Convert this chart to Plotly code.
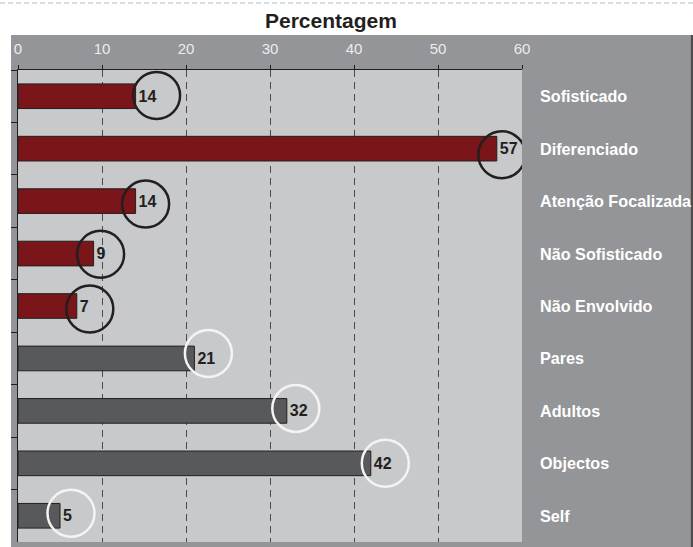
import plotly.graph_objects as go

# ---- data ----
categories = ["Sofisticado", "Diferenciado", "Atenção Focalizada", "Não Sofisticado",
              "Não Envolvido", "Pares", "Adultos", "Objectos", "Self"]
values = [14, 57, 14, 9, 7, 21, 32, 42, 5]
groups = ["A", "A", "A", "A", "A", "B", "B", "B", "B"]
x_ticks = [0, 10, 20, 30, 40, 50, 60]
title_text = "Percentagem"

# ---- styles ----
bar_colors = {"A": "#7a1519", "B": "#58595b"}
circle_colors = {"A": "#231f20", "B": "#f4f4f4"}
# pixel offsets of the highlight circles from the bar end / row centre
circle_dx = [21, 5, 10, 7, 13, 14, 9, 14.5, 11]
circle_dy = [-0.7, 6, 3, 0.6, 3, -5, -2.5, 0, -2.5]
R = 23.5

FONT = "Liberation Sans, Arial, sans-serif"
W, H = 693, 547
ML, MR, MT, MB = 18, 171, 70, 5
PW, PH = W - ML - MR, H - MT - MB


def px(xp):
    return (xp - ML) / PW


def py(yp):
    return (H - MB - yp) / PH


fig = go.Figure()
fig.add_trace(go.Bar(
    orientation="h",
    y=categories,
    x=values,
    width=0.47,
    marker=dict(color=[bar_colors[g] for g in groups],
                line=dict(color="#231f20", width=1)),
    text=[str(v) for v in values],
    textposition="outside",
    textfont=dict(family=FONT, size=16, color="#231f20", weight="bold"),
    cliponaxis=False,
    hoverinfo="skip",
))

shapes = [
    # outer grey panel
    dict(type="rect", xref="paper", yref="paper", x0=px(11), x1=px(690.5),
         y0=py(547), y1=py(35), fillcolor="#939598", line=dict(width=0), layer="below"),
    # right shadow
    dict(type="rect", xref="paper", yref="paper", x0=px(690.5), x1=px(693),
         y0=py(547), y1=py(35), fillcolor="#4d4d4f", line=dict(width=0), layer="below"),
    # plot area
    dict(type="rect", xref="paper", yref="paper", x0=0, x1=1, y0=0, y1=1,
         fillcolor="#c8c9cb", line=dict(width=0), layer="below"),
    # top dashed page border
    dict(type="line", xref="paper", yref="paper", x0=px(0), x1=px(693),
         y0=py(3), y1=py(3), line=dict(color="#a9bcc6", width=1, dash="5px,3px")),
]

for i, (v, g) in enumerate(zip(values, groups)):
    shapes.append(dict(
        type="circle", xref="x", yref="y",
        xsizemode="pixel", ysizemode="pixel",
        xanchor=v, yanchor=i,
        x0=circle_dx[i] - R, x1=circle_dx[i] + R,
        y0=-circle_dy[i] - R, y1=-circle_dy[i] + R,
        line=dict(color=circle_colors[g], width=2.5),
        layer="above",
    ))

annotations = [dict(
    text=title_text, xref="paper", yref="paper", x=px(331), y=py(20),
    xanchor="center", yanchor="middle", showarrow=False,
    font=dict(family=FONT, size=21, color="#231f20", weight="bold"),
)]
for i, c in enumerate(categories):
    annotations.append(dict(
        text=c, xref="paper", yref="y", x=1, y=i, xshift=16,
        xanchor="left", yanchor="middle", showarrow=False,
        font=dict(family=FONT, size=16.2, color="#ffffff", weight="bold"),
    ))

fig.update_layout(
    width=W, height=H,
    margin=dict(l=ML, r=MR, t=MT, b=MB, pad=0),
    paper_bgcolor="#ffffff",
    plot_bgcolor="rgba(0,0,0,0)",
    showlegend=False,
    shapes=shapes,
    annotations=annotations,
    xaxis=dict(
        side="top", range=[0, 60], tickvals=x_ticks,
        ticktext=[str(t) for t in x_ticks],
        showline=True, linecolor="#231f20", linewidth=1,
        ticks="outside", ticklen=4, tickcolor="#231f20",
        showgrid=True, gridcolor="#4a4a4a", gridwidth=1, griddash="7px,5px",
        zeroline=False,
        tickfont=dict(family=FONT, size=15, color="#ececec"),
        ticklabelstandoff=5,
    ),
    yaxis=dict(
        type="category", categoryorder="array", categoryarray=categories,
        range=[8.5, -0.5],
        showline=True, linecolor="#231f20", linewidth=1,
        ticks="outside", ticklen=6, tickcolor="#231f20", tickson="boundaries",
        showticklabels=False, showgrid=False, zeroline=False,
    ),
)

fig.write_html("out.html", config={"displayModeBar": False},
               post_script="document.body.style.margin='0';")
